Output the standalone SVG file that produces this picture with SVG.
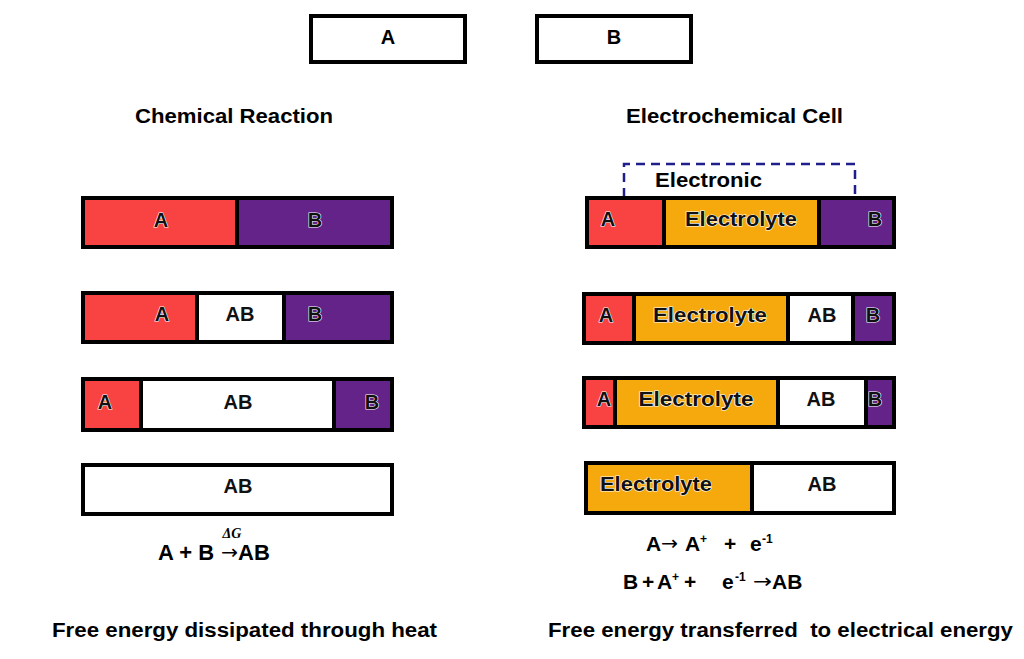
<svg xmlns="http://www.w3.org/2000/svg" width="1024" height="659" viewBox="0 0 1024 659">
<style>
.frame{fill:none;stroke:#000;stroke-width:4;}
.box{fill:#fff;stroke:#000;stroke-width:4;}
.red{fill:#F94343;}
.pur{fill:#632388;}
.org{fill:#F6A90C;}
.wht{fill:#fff;}
.div{stroke:#000;stroke-width:4;}
.t{font-family:"Liberation Sans",Arial,sans-serif;font-weight:bold;fill:#000;}
.lbl{font-family:"Liberation Sans",Arial,sans-serif;font-weight:bold;font-size:20px;fill:#111;stroke:#fff;stroke-width:1.2;paint-order:stroke;text-anchor:middle;}
.eq{font-size:21px;}
.sup{font-size:12px;}
.arr{font-family:"DejaVu Sans",sans-serif;font-weight:normal;font-size:20px;}
</style>
<rect width="1024" height="659" fill="#fff"/>

<g id="top-A"><rect class="box" x="311" y="16" width="154" height="46"/><text class="t" x="388" y="44" font-size="20" text-anchor="middle">A</text></g>
<g id="top-B"><rect class="box" x="537" y="16" width="154" height="46"/><text class="t" x="614" y="44" font-size="20" text-anchor="middle">B</text></g>

<text class="t" x="135" y="123" font-size="20" textLength="198" lengthAdjust="spacingAndGlyphs">Chemical Reaction</text>
<text class="t" x="626" y="123" font-size="20" textLength="217" lengthAdjust="spacingAndGlyphs">Electrochemical Cell</text>

<!-- Left column -->
<g id="chem-1">
<rect class="red" x="85" y="200" width="151" height="45"/>
<rect class="pur" x="238" y="200" width="152" height="45"/>
<line class="div" x1="237" y1="199" x2="237" y2="246"/>
<rect class="frame" x="83" y="198" width="309" height="49"/>
<text class="lbl" x="161" y="227">A</text><text class="lbl" x="315" y="227">B</text>
</g>
<g id="chem-2">
<rect class="red" x="85" y="295" width="112" height="45"/>
<rect class="wht" x="197" y="295" width="87" height="45"/>
<rect class="pur" x="286" y="295" width="104" height="45"/>
<line class="div" x1="197" y1="294" x2="197" y2="341"/>
<line class="div" x1="284" y1="294" x2="284" y2="341"/>
<rect class="frame" x="83" y="293" width="309" height="49"/>
<text class="lbl" x="162" y="321">A</text><text class="lbl" x="240" y="321">AB</text><text class="lbl" x="315" y="321">B</text>
</g>
<g id="chem-3">
<rect class="red" x="85" y="381" width="56" height="47"/>
<rect class="wht" x="141" y="381" width="193" height="47"/>
<rect class="pur" x="334" y="381" width="56" height="47"/>
<line class="div" x1="141" y1="380" x2="141" y2="429"/>
<line class="div" x1="334" y1="380" x2="334" y2="429"/>
<rect class="frame" x="83" y="379" width="309" height="51"/>
<text class="lbl" x="105" y="409">A</text><text class="lbl" x="238" y="409">AB</text><text class="lbl" x="372" y="409">B</text>
</g>
<g id="chem-4">
<rect class="box" x="83" y="465" width="309" height="49"/>
<text class="lbl" x="238" y="493">AB</text>
</g>
<g id="chem-eq">
<text class="t" font-size="22"><tspan x="158" y="560">A + B</tspan><tspan class="arr" x="221" y="559" textLength="17" lengthAdjust="spacingAndGlyphs">→</tspan><tspan x="238" y="560">AB</tspan></text>
<text x="232" y="538" font-family="Liberation Serif,serif" font-style="italic" font-weight="bold" font-size="14" fill="#000" text-anchor="middle">ΔG</text>
</g>

<!-- Right column -->
<g id="connectors">
<polyline points="624,197 624,164 855,164 855,197" fill="none" stroke="#1E1E8C" stroke-width="2.5" stroke-dasharray="9,6"/>
</g>
<text class="t" x="655" y="187" font-size="20" textLength="107" lengthAdjust="spacingAndGlyphs">Electronic</text>

<g id="cell-1">
<rect class="red" x="589" y="200" width="74" height="45"/>
<rect class="org" x="666" y="200" width="152" height="45"/>
<rect class="pur" x="821" y="200" width="71" height="45"/>
<line class="div" x1="664" y1="199" x2="664" y2="246"/>
<line class="div" x1="819" y1="199" x2="819" y2="246"/>
<rect class="frame" x="587" y="198" width="307" height="49"/>
<text class="lbl" x="608" y="226">A</text><text class="lbl" x="741" y="226" textLength="112" lengthAdjust="spacingAndGlyphs">Electrolyte</text><text class="lbl" x="875" y="226">B</text>
</g>
<g id="cell-2">
<rect class="red" x="586" y="296" width="47" height="45"/>
<rect class="org" x="635" y="296" width="152" height="45"/>
<rect class="wht" x="789" y="296" width="63" height="45"/>
<rect class="pur" x="854" y="296" width="38" height="45"/>
<line class="div" x1="634" y1="295" x2="634" y2="342"/>
<line class="div" x1="788" y1="295" x2="788" y2="342"/>
<line class="div" x1="853" y1="295" x2="853" y2="342"/>
<rect class="frame" x="584" y="294" width="310" height="49"/>
<text class="lbl" x="606" y="322">A</text><text class="lbl" x="710" y="322" textLength="114" lengthAdjust="spacingAndGlyphs">Electrolyte</text><text class="lbl" x="822" y="322">AB</text><text class="lbl" x="873" y="322">B</text>
</g>
<g id="cell-3">
<rect class="red" x="586" y="380" width="29" height="45"/>
<rect class="wht" x="779" y="380" width="86" height="45"/>
<rect class="pur" x="867" y="380" width="25" height="45"/>
<text class="lbl" x="604" y="406">A</text><text class="lbl" x="875" y="406">B</text>
<rect class="org" x="616" y="380" width="161" height="45"/>
<rect class="wht" x="779" y="380" width="86" height="45"/>
<line class="div" x1="615" y1="379" x2="615" y2="426"/>
<line class="div" x1="778" y1="379" x2="778" y2="426"/>
<line class="div" x1="866" y1="379" x2="866" y2="426"/>
<rect class="frame" x="584" y="378" width="310" height="49"/>
<text class="lbl" x="696" y="406" textLength="115" lengthAdjust="spacingAndGlyphs">Electrolyte</text><text class="lbl" x="821" y="406">AB</text>
</g>
<g id="cell-4">
<rect class="org" x="588" y="465" width="164" height="46"/>
<rect class="wht" x="753" y="465" width="139" height="46"/>
<line class="div" x1="752" y1="464" x2="752" y2="512"/>
<rect class="frame" x="586" y="463" width="308" height="50"/>
<text class="lbl" x="656" y="491" textLength="112" lengthAdjust="spacingAndGlyphs">Electrolyte</text><text class="lbl" x="822" y="491">AB</text>
</g>
<g id="cell-eq">
<text class="t eq"><tspan x="646" y="551">A</tspan><tspan class="arr" x="661" y="550" textLength="17" lengthAdjust="spacingAndGlyphs">→</tspan><tspan x="685" y="551">A</tspan><tspan class="sup" x="700" y="543">+</tspan><tspan x="724" y="551">+</tspan><tspan x="750" y="551">e</tspan><tspan class="sup" x="762" y="543">-1</tspan></text>
<text class="t eq"><tspan x="623" y="589">B</tspan><tspan x="642" y="589">+</tspan><tspan x="657" y="589">A</tspan><tspan class="sup" x="672" y="581">+</tspan><tspan x="684" y="589">+</tspan><tspan x="722" y="589">e</tspan><tspan class="sup" x="735" y="581">-1</tspan><tspan class="arr" x="753" y="588" textLength="19" lengthAdjust="spacingAndGlyphs">→</tspan><tspan x="772" y="589">AB</tspan></text>
</g>

<text class="t" x="52" y="637" font-size="20" textLength="385" lengthAdjust="spacingAndGlyphs">Free energy dissipated through heat</text>
<text class="t" x="548" y="637" font-size="20" textLength="465" lengthAdjust="spacingAndGlyphs" xml:space="preserve">Free energy transferred  to electrical energy</text>
</svg>
